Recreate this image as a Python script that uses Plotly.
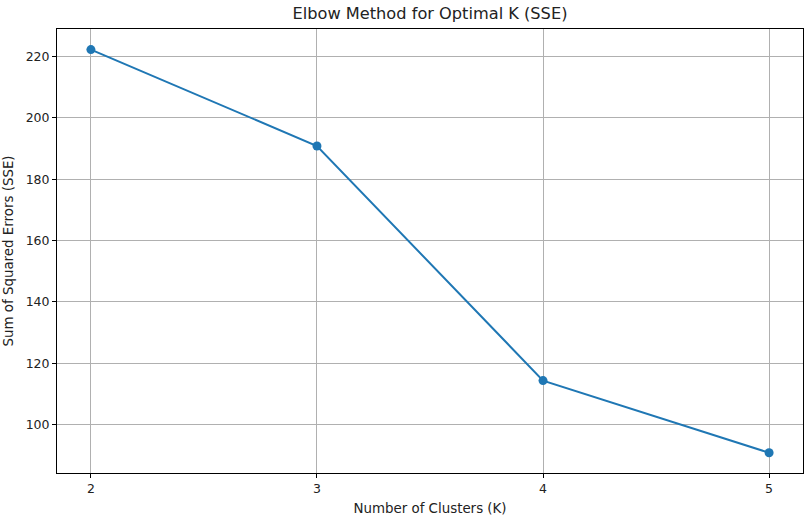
import plotly.graph_objects as go

k_values = [2, 3, 4, 5]
sse_values = [222.2, 190.8, 114.4, 90.9]
x_ticks = [2, 3, 4, 5]
y_ticks = [100, 120, 140, 160, 180, 200, 220]

fig = go.Figure()
fig.add_trace(go.Scatter(
    x=k_values, y=sse_values, mode="lines+markers",
    line=dict(color="#1f77b4", width=2),
    marker=dict(color="#1f77b4", size=9),
))

axis_common = dict(
    showline=True, linecolor="black", linewidth=1, mirror=True,
    showgrid=True, gridcolor="#b0b0b0", gridwidth=1,
    ticks="outside", ticklen=4, tickcolor="black", tickwidth=1,
    zeroline=False, tickfont=dict(size=12.5, color="#222"),
    automargin=False,
)

fig.update_layout(
    width=805, height=519,
    margin=dict(l=57, r=2, t=29, b=46),
    paper_bgcolor="white", plot_bgcolor="white",
    font=dict(family="DejaVu Sans", color="#222"),
    showlegend=False,
    title=dict(text="Elbow Method for Optimal K (SSE)", x=0.5, xref="paper",
               y=1, yref="container", yanchor="top", pad=dict(t=8),
               font=dict(size=16.2, color="#222")),
    xaxis=dict(range=[1.85, 5.15], tickvals=x_ticks,
               title=dict(text="Number of Clusters (K)", font=dict(size=13.4), standoff=8),
               **axis_common),
    yaxis=dict(range=[84.3, 228.9], tickvals=y_ticks,
               title=dict(text="Sum of Squared Errors (SSE)", font=dict(size=13.4), standoff=8),
               **axis_common),
)

fig.write_html(
    "out.html",
    config={"displayModeBar": False},
    post_script="document.body.style.margin='0';document.body.style.overflow='hidden';",
)
